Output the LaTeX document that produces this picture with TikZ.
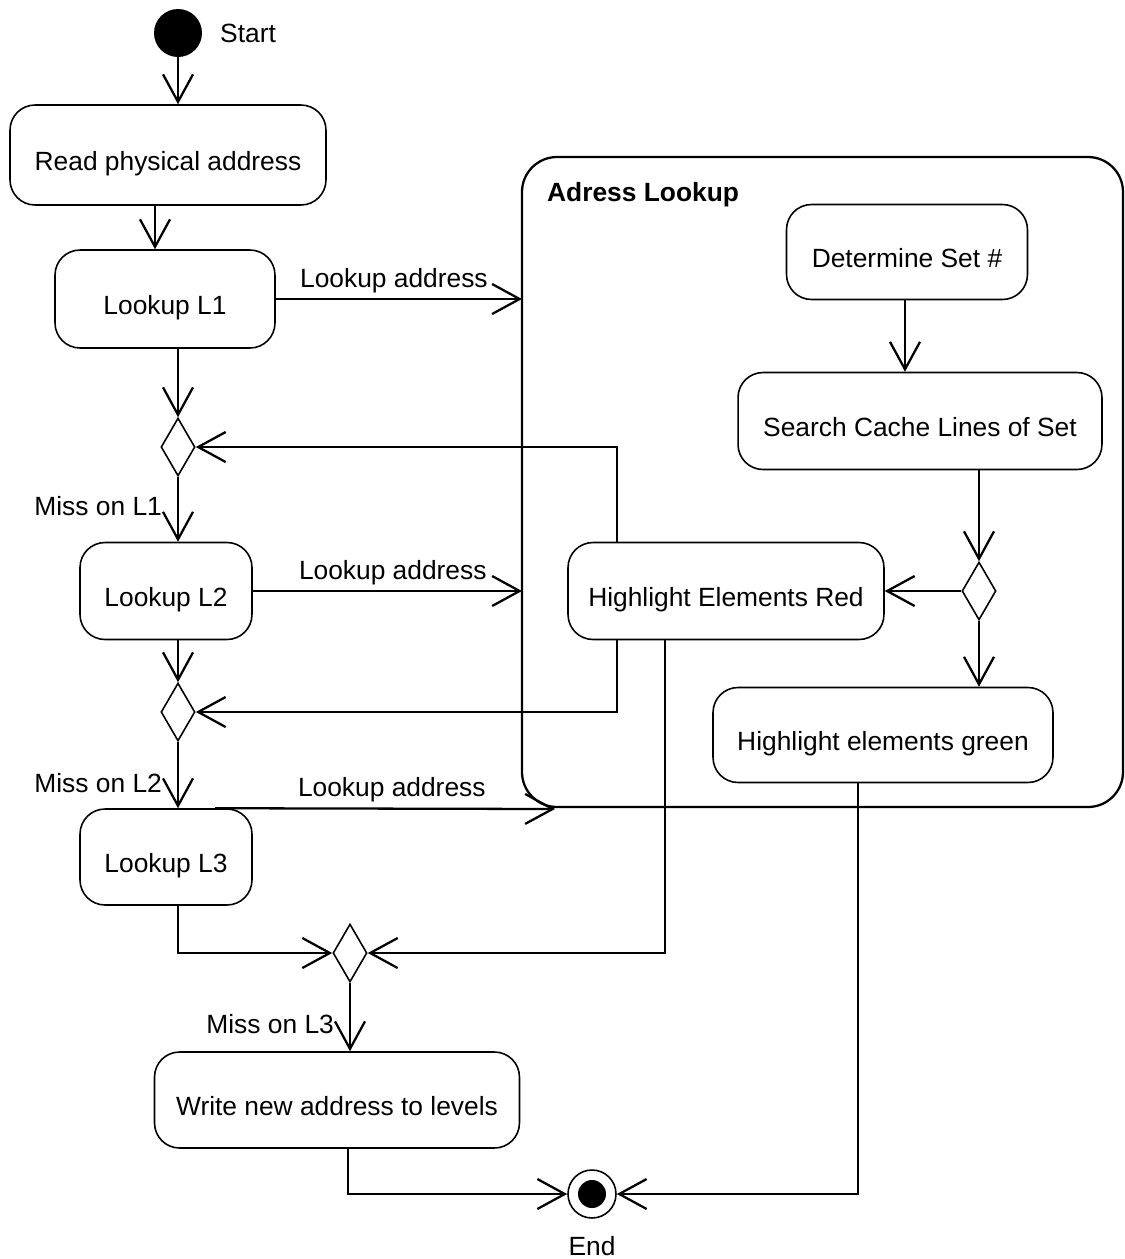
\documentclass[tikz,border=0pt]{standalone}
\usepackage{fontspec}
\setmainfont{Liberation Sans}
\usetikzlibrary{arrows.meta,positioning,shapes.geometric}
\tikzset{
  action/.style   = {draw, line width=0.9pt, rectangle, rounded corners=0.5cm,
                     align=center, inner sep=0pt, text height=18pt, text depth=0pt},
  decision/.style = {draw, line width=0.9pt, diamond, inner sep=0pt,
                     minimum width=0.68cm, minimum height=1.16cm},
  flowarrow/.style = {line width=1.3pt, -{Straight Barb[length=5.5mm,width=6mm,line width=1.3pt]}},
  guard/.style    = {left, inner sep=0pt, xshift=-0.3cm},
  msglbl/.style   = {above, inner sep=3pt},
}

\begin{document}
\begin{tikzpicture}[x=0.02cm, y=-0.02cm, font=\fontsize{15}{18}\selectfont]
\useasboundingbox (0,0) rectangle (1125,1259);
% ---- initial and final nodes ----
\node[circle, fill, inner sep=0pt, minimum size=0.96cm] (start) at (178,33) {};
\node[anchor=west] (startlbl) at (214,33) {Start};
\node[circle, draw, line width=0.9pt, inner sep=0pt, minimum size=0.96cm] (end) at (592,1194) {};
\node[circle, fill, inner sep=0pt, minimum size=0.56cm] (endin) at (592,1194) {};
\node (endlbl) at (592,1246) {End};
% ---- the sub activity ----
\draw[line width=1.3pt, rounded corners=0.7cm] (522,157) rectangle (1123,807);
\coordinate (subwest) at (522,480);
\node[anchor=west, font=\fontsize{15}{18}\selectfont\bfseries] (subtitle) at (541,195) {Adress Lookup};
% ---- actions ----
\node[action, minimum width=6.32cm, minimum height=2cm]   (read)   at (168,155)  {Read physical address};
\node[action, minimum width=4.4cm,  minimum height=1.96cm] (lookA) at (165,299)  {Lookup L1};
\node[action, minimum width=3.44cm, minimum height=1.94cm] (lookB) at (166,591)  {Lookup L2};
\node[action, minimum width=3.44cm, minimum height=1.92cm] (lookC) at (166,857)  {Lookup L3};
\node[action, minimum width=7.3cm,  minimum height=1.92cm] (write) at (337,1100) {Write new address to levels};
\node[action, minimum width=4.82cm, minimum height=1.9cm]  (detset) at (907,252) {Determine Set \#};
\node[action, minimum width=7.28cm, minimum height=1.94cm] (search) at (920,421) {Search Cache Lines of Set};
\node[action, minimum width=6.32cm, minimum height=1.94cm] (hlred)  at (726,591) {Highlight Elements Red};
\node[action, minimum width=6.8cm,  minimum height=1.9cm]  (hlgreen) at (883,735) {Highlight elements green};
% ---- decisions ----
\node[decision] (decA) at (178,447) {};
\node[decision] (decB) at (178,712) {};
\node[decision] (decC) at (350,953) {};
\node[decision] (decD) at (979,591) {};
\coordinate (lookCtip) at (555,809);
% ---- main flow ----
\draw[flowarrow] (start.south) -- (start.south |- read.north);
\draw[flowarrow] (155,0 |- read.south) -- (155,0 |- lookA.north);
\draw[flowarrow] (lookA.east) -- (lookA.east -| subwest)
  node[pos=0.48, msglbl] {Lookup address};
\draw[flowarrow] (178,0 |- lookA.south) -- (decA.north);
\draw[flowarrow] (decA.south) -- (decA.south |- lookB.north)
  node[pos=0.45, guard] {Miss on L1};
\draw[flowarrow] (lookB.east) -- (lookB.east -| subwest)
  node[pos=0.52, msglbl] {Lookup address};
\draw[flowarrow] (178,0 |- lookB.south) -- (decB.north);
\draw[flowarrow] (decB.south) -- (decB.south |- lookC.north)
  node[pos=0.62, guard] {Miss on L2};
\draw[flowarrow] (215,0 |- lookC.north) -- (lookCtip)
  node[pos=0.52, msglbl] {Lookup address};
\draw[flowarrow] (178,0 |- lookC.south) |- (decC.west);
\draw[flowarrow] (decC.south) -- (decC.south |- write.north)
  node[pos=0.6, guard] {Miss on L3};
\draw[flowarrow] (348,0 |- write.south) |- (end.west);
% ---- inside the lookup ----
\draw[flowarrow] (905,0 |- detset.south) -- (905,0 |- search.north);
\draw[flowarrow] (decD.north |- search.south) -- (decD.north);
\draw[flowarrow] (decD.west) -- (decD.west -| hlred.east);
\draw[flowarrow] (decD.south) -- (decD.south |- hlgreen.north);
% ---- results back ----
\draw[flowarrow] (617,0 |- hlred.north) |- (decA.east);
\draw[flowarrow] (617,0 |- hlred.south) |- (decB.east);
\draw[flowarrow] (665,0 |- hlred.south) |- (decC.east);
\draw[flowarrow] (858,0 |- hlgreen.south) |- (end.east);
\end{tikzpicture}
\end{document}
